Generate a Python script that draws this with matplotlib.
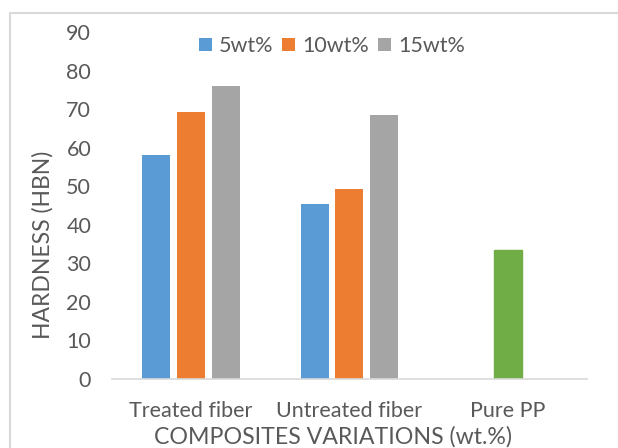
import numpy as np
import matplotlib
matplotlib.use('Agg')
import matplotlib.pyplot as plt
from matplotlib.patches import Rectangle

# Hardness values (HBN) per composite
categories = ['Treated fiber', 'Untreated fiber', 'Pure PP']
series_names = ['5wt%', '10wt%', '15wt%']
hard_5wt = [58.2, 45.3, np.nan]
hard_10wt = [69.4, 49.2, 33.5]
hard_15wt = [76.1, 68.5, np.nan]

series_colors = ['#5B9BD5', '#ED7D31', '#A5A5A5']
pure_pp_color = '#70AD47'
text_color = '#595959'

plt.rcParams['font.family'] = ['Lato', 'DejaVu Sans']

fig = plt.figure(figsize=(6.18, 4.48), dpi=100)
ax = fig.add_axes([0.1812, 0.155, 0.7686, 0.7725])

# outer chart border (runs off the right and bottom edges)
fig.patches.append(Rectangle((10 / 618, -0.05), 1.0, 1 - 13 / 448 + 0.05,
                             transform=fig.transFigure, fill=False,
                             edgecolor='#D9D9D9', linewidth=1.5))

x = np.arange(len(categories))
width = 0.177
step = 0.219

bars = []
for i, (vals, col) in enumerate(zip([hard_5wt, hard_10wt, hard_15wt], series_colors)):
    b = ax.bar(x + (i - 1) * step, vals, width, color=col, label=series_names[i])
    bars.append(b)

# Pure PP shown in green
bars[1][2].set_color(pure_pp_color)

ax.set_xlim(-0.5, 2.5)
ax.set_ylim(0, 90)
ax.set_yticks(range(0, 91, 10))
ax.set_xticks(x)
ax.set_xticklabels(categories)

for s in ['top', 'right', 'left']:
    ax.spines[s].set_visible(False)
ax.spines['bottom'].set_color('#D9D9D9')
ax.spines['bottom'].set_linewidth(1.2)
ax.tick_params(axis='both', length=0, colors=text_color, labelsize=15.5)
ax.tick_params(axis='y', pad=15)
ax.tick_params(axis='x', pad=16)

# axis titles, centred on fixed positions
ax.set_ylabel('HARDNESS (HBN)', color=text_color, fontsize=16.5, va='center')
ax.yaxis.set_label_coords((43 - 112) / 475, 0.386)
ax.set_xlabel('COMPOSITES VARIATIONS (wt.%)', color=text_color, fontsize=16.7, va='center')
ax.xaxis.set_label_coords((333 - 112) / 475, (378.5 - 437) / 346)

ax.legend(loc='center', bbox_to_anchor=(332 / 618, 1 - 46 / 448),
          bbox_transform=fig.transFigure, ncol=3, frameon=False,
          fontsize=15.5, labelcolor=text_color, handlelength=0.6,
          handleheight=0.6, handletextpad=0.35, columnspacing=0.4)

fig.savefig('out.png', dpi=100)
